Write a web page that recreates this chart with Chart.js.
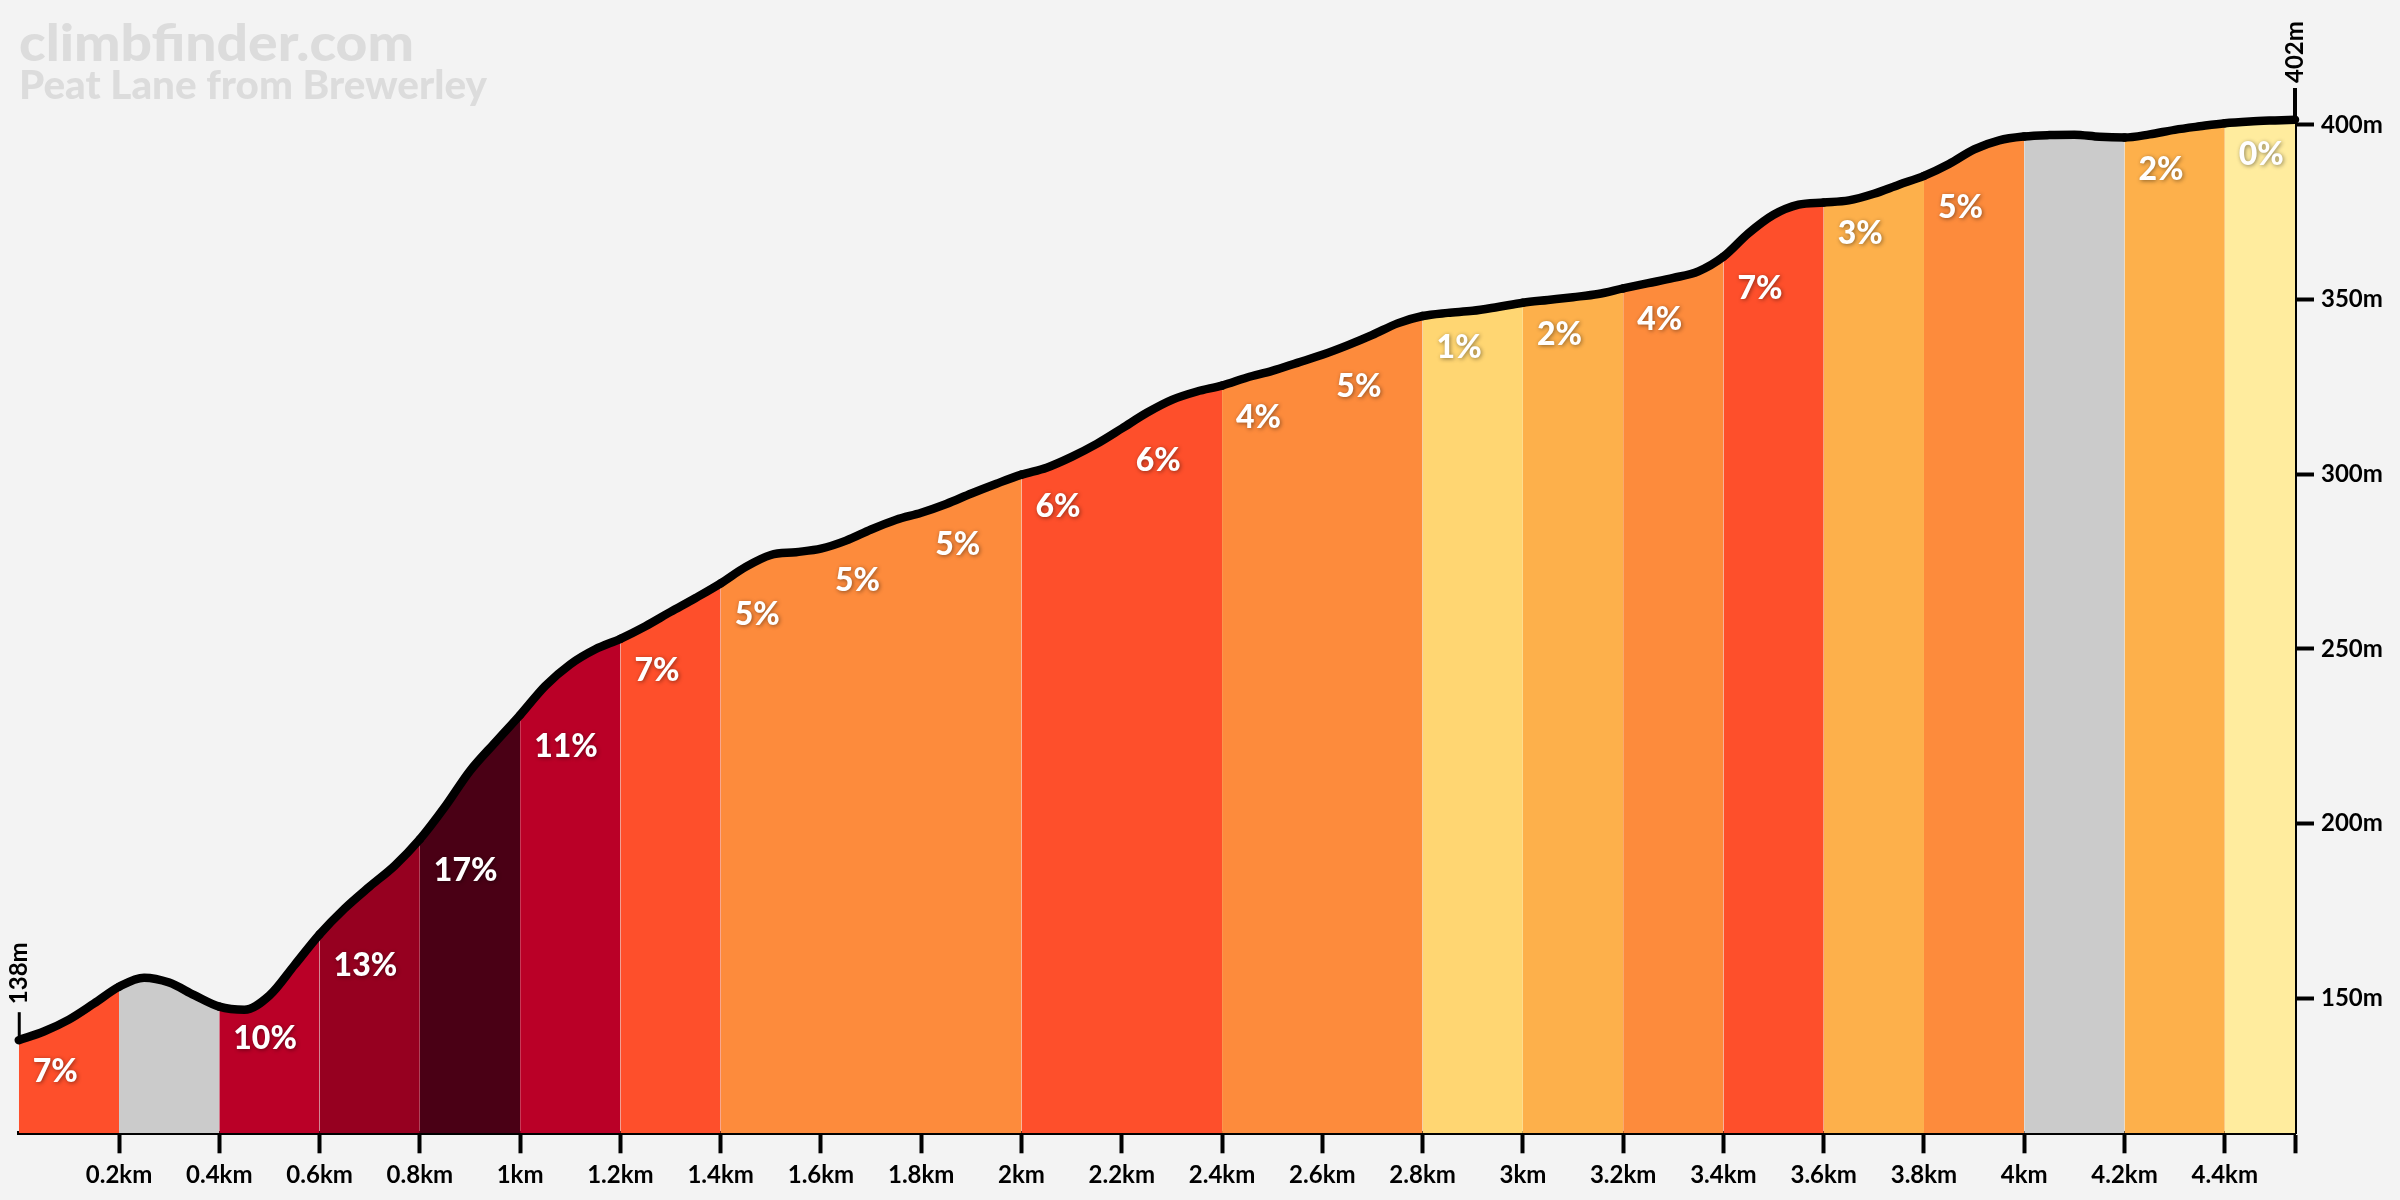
<!DOCTYPE html>
<html><head><meta charset="utf-8">
<script src="https://cdn.jsdelivr.net/npm/chart.js@4.4.1/dist/chart.umd.min.js"></script>
<style>html,body{margin:0;padding:0;background:#f3f3f3;} canvas{display:block;}</style>
</head><body>
<canvas id="c" width="2400" height="1200" style="width:2400px;height:1200px"></canvas>
<script>
// ---- data ----
const distanceKm = [0,0.05,0.1,0.15,0.2,0.25,0.3,0.35,0.4,0.45,0.5,0.55,0.6,0.65,0.7,0.75,0.8,0.85,0.9,0.95,
  1.0,1.05,1.1,1.15,1.2,1.25,1.3,1.35,1.4,1.45,1.5,1.55,1.6,1.65,1.7,1.75,1.8,1.85,1.9,1.95,
  2.0,2.05,2.1,2.15,2.2,2.25,2.3,2.35,2.4,2.45,2.5,2.55,2.6,2.65,2.7,2.75,2.8,2.85,2.9,2.95,
  3.0,3.05,3.1,3.15,3.2,3.25,3.3,3.35,3.4,3.45,3.5,3.55,3.6,3.65,3.7,3.75,3.8,3.85,3.9,3.95,
  4.0,4.05,4.1,4.15,4.2,4.25,4.3,4.35,4.4,4.45,4.5,4.54];
const elevationM = [138.0,140.5,143.9,148.5,153.3,155.9,154.5,150.9,147.6,146.7,150.8,159.5,168.3,175.7,182.0,188.0,195.5,204.8,215.1,223.2,
  231.1,239.4,245.6,249.9,252.9,256.5,260.6,264.6,268.8,273.5,276.9,277.7,278.7,281.0,284.2,287.0,289.0,291.5,294.5,297.3,
  299.9,301.9,305.0,308.7,313.1,317.6,321.3,323.7,325.4,327.7,329.6,331.9,334.2,336.9,339.9,343.2,345.3,346.2,346.8,347.9,
  349.1,349.9,350.7,351.6,353.2,354.7,356.2,358.1,362.3,369.0,374.3,377.2,377.8,378.4,380.3,382.9,385.4,388.8,393.0,395.6,
  396.7,397.1,397.2,396.6,396.4,397.3,398.6,399.6,400.5,401.0,401.3,401.5];
const segmentStartKm = [0,0.2,0.4,0.6,0.8,1.0,1.2,1.4,1.6,1.8,2.0,2.2,2.4,2.6,2.8,3.0,3.2,3.4,3.6,3.8,4.0,4.2,4.4];
const segmentGrades = ['7%','','10%','13%','17%','11%','7%','5%','5%','5%','6%','6%','4%','5%','1%','2%','4%','7%','3%','5%','','2%','0%'];
const segmentColors = ['#fe4f2b','#cbcbcb','#ba0027','#960020','#4a0015','#ba0027','#fe4f2b','#fd8b3c','#fd8b3c','#fd8b3c','#fe4f2b','#fe4f2b','#fd8b3c','#fd8b3c','#ffd672','#fdb04b','#fd8b3c','#fe4f2b','#fdb04b','#fd8b3c','#cbcbcb','#fdb04b','#ffec9e'];
const xTickValues = [0.2,0.4,0.6,0.8,1.0,1.2,1.4,1.6,1.8,2.0,2.2,2.4,2.6,2.8,3.0,3.2,3.4,3.6,3.8,4.0,4.2,4.4,4.54];
const xTickLabels = ['0.2km','0.4km','0.6km','0.8km','1km','1.2km','1.4km','1.6km','1.8km','2km','2.2km','2.4km','2.6km','2.8km','3km','3.2km','3.4km','3.6km','3.8km','4km','4.2km','4.4km',''];
const yTickValues = [150,200,250,300,350,400];
const yTickLabels = ['150m','200m','250m','300m','350m','400m'];
const startLabel = '138m';
const endLabel = '402m';
const titleText = 'climbfinder.com';
const subtitleText = 'Peat Lane from Brewerley';

function segIndex(km){ let i=0; for(let k=0;k<segmentStartKm.length;k++){ if(km >= segmentStartKm[k]-1e-9) i=k; } return i; }
function elevAt(km){ for(let i=0;i<distanceKm.length;i++){ if(Math.abs(distanceKm[i]-km)<1e-9) return elevationM[i]; } return null; }

const overlay = {
  id:'overlay',
  afterDraw(chart){
    const {ctx, chartArea:a, scales:{x,y}} = chart;
    // titles
    ctx.save();
    ctx.fillStyle = '#dcdcdc';
    ctx.textBaseline = 'alphabetic'; ctx.textAlign = 'left';
    ctx.font = '900 52px Lato';
    let w = ctx.measureText(titleText).width;
    ctx.save(); ctx.translate(19, 61); ctx.scale(395/w, 1); ctx.fillText(titleText, 0, 0); ctx.restore();
    ctx.font = '900 39px Lato';
    w = ctx.measureText(subtitleText).width;
    ctx.save(); ctx.translate(19, 99); ctx.scale(468/w, 1); ctx.fillText(subtitleText, 0, 0); ctx.restore();
    ctx.restore();

    // grade labels
    ctx.save();
    ctx.font = '900 32px Lato';
    ctx.fillStyle = '#ffffff'; ctx.textAlign = 'left'; ctx.textBaseline = 'alphabetic';
    ctx.shadowColor = 'rgba(0,0,0,0.45)'; ctx.shadowBlur = 4; ctx.shadowOffsetX = 1; ctx.shadowOffsetY = 1;
    segmentStartKm.forEach((s,i)=>{
      if(!segmentGrades[i]) return;
      const e = elevAt(s);
      ctx.fillText(segmentGrades[i], x.getPixelForValue(s)+14, y.getPixelForValue(e)+42);
    });
    ctx.restore();

    // start / end markers
    ctx.save();
    ctx.strokeStyle = '#000'; ctx.fillStyle = '#000'; ctx.lineWidth = 3;
    const sx = x.getPixelForValue(distanceKm[0]);
    const sy = y.getPixelForValue(elevationM[0]);
    ctx.beginPath(); ctx.moveTo(sx+0.5, sy); ctx.lineTo(sx+0.5, sy-28); ctx.stroke();
    ctx.font = 'bold 24px Lato'; ctx.textAlign = 'left'; ctx.textBaseline = 'alphabetic';
    ctx.save(); ctx.translate(sx+8, sy-36); ctx.rotate(-Math.PI/2); ctx.fillText(startLabel, 0, 0); ctx.restore();
    const ex = x.getPixelForValue(distanceKm[distanceKm.length-1]);
    ctx.save(); ctx.translate(ex+8, a.top-7); ctx.rotate(-Math.PI/2); ctx.fillText(endLabel, 0, 0); ctx.restore();
    ctx.restore();
  }
};

function build(){
  const ctx = document.getElementById('c').getContext('2d');
  new Chart(ctx, {
    type:'line',
    data:{ datasets:[{
      data: distanceKm.map((d,i)=>({x:d, y:elevationM[i]})),
      borderColor:'#000', borderWidth:8.5, pointRadius:0, fill:'start',
      cubicInterpolationMode:'monotone',
      backgroundColor: segmentColors[0],
      segment:{ backgroundColor: c => segmentColors[segIndex(c.p0.parsed.x)] },
      clip:false, borderCapStyle:'round', borderJoinStyle:'round'
    }]},
    options:{
      responsive:false, animation:false, devicePixelRatio:1,
      layout:{padding:{left:18.75, top:90, right:0, bottom:0}},
      plugins:{legend:{display:false}, tooltip:{enabled:false}},
      scales:{
        x:{ type:'linear', min:0, max:4.54,
          afterBuildTicks: s => { s.ticks = xTickValues.map(v=>({value:v})); },
          afterFit: s => { s.height = 1200-1133.3; },
          grid:{drawOnChartArea:false, drawTicks:true, tickLength:20, tickWidth:4, tickColor:'#000'},
          border:{display:true, color:'#000', width:4},
          ticks:{autoSkip:false, maxRotation:0, minRotation:0, padding:8, color:'#000',
            font:{family:'Lato', weight:'bold', size:24}, callback:(v,i)=>xTickLabels[i]}
        },
        y:{ type:'linear', position:'right', min:111.35, max:410,
          afterBuildTicks: s => { s.ticks = yTickValues.map(v=>({value:v})); },
          afterFit: s => { s.width = 2400-2295; },
          grid:{drawOnChartArea:false, drawTicks:true, tickLength:19, tickWidth:4, tickColor:'#000'},
          border:{display:true, color:'#000', width:4},
          ticks:{autoSkip:false, padding:7, color:'#000',
            font:{family:'Lato', weight:'bold', size:24}, callback:(v,i)=>yTickLabels[i]}
        }
      }
    },
    plugins:[overlay]
  });
}
Promise.all([document.fonts.load('900 32px Lato'), document.fonts.load('bold 24px Lato')]).then(build, build);
</script>
</body></html>
